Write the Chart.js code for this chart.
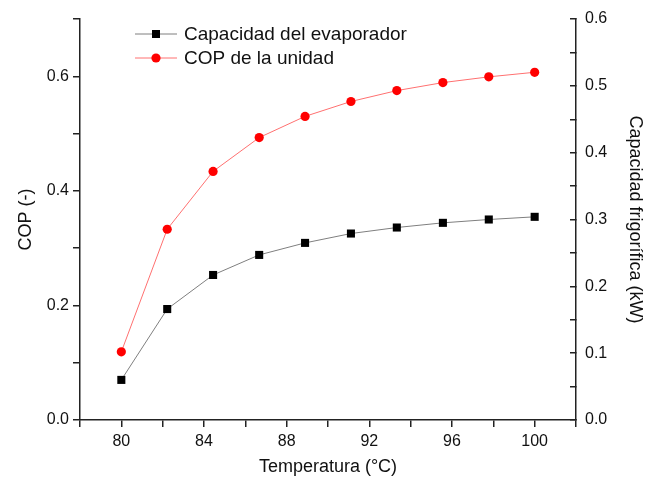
<!DOCTYPE html>
<html>
<head>
<meta charset="utf-8">
<script src="https://cdn.jsdelivr.net/npm/chart.js@4/dist/chart.umd.min.js"></script>
<style>
    html, body { margin: 0; padding: 0; background: #fff; }
    #wrap { width: 650px; height: 478px; }
</style>
</head>
<body>
<div id="wrap"><canvas id="chart" width="650" height="478"></canvas></div>
<script>
// Data
const temperatures = [80, 82.22, 84.44, 86.67, 88.89, 91.11, 93.33, 95.56, 97.78, 100];
const capacidadEvaporador = [0.060, 0.166, 0.217, 0.247, 0.265, 0.279, 0.288, 0.295, 0.300, 0.304];
const copUnidad = [0.119, 0.333, 0.434, 0.493, 0.530, 0.556, 0.575, 0.589, 0.599, 0.607];
const xTickLabels = [80, 84, 88, 92, 96, 100];
const copTickLabels = ['0.0', '0.2', '0.4', '0.6'];
const capTickLabels = ['0.0', '0.1', '0.2', '0.3', '0.4', '0.5', '0.6'];

const font = "Arial, 'Liberation Sans', sans-serif";
const axisColor = '#222';

// Legend drawn in the top left corner of the plot
const cornerLegend = {
    id: 'cornerLegend',
    afterDraw(chart) {
        const ctx = chart.ctx;
        ctx.save();
        chart.data.datasets.forEach((ds, i) => {
            const y = 34 + i * 24;
            ctx.strokeStyle = ds.borderColor;
            ctx.lineWidth = 1;
            ctx.beginPath();
            ctx.moveTo(135, y);
            ctx.lineTo(177, y);
            ctx.stroke();
            ctx.fillStyle = ds.pointBackgroundColor;
            if (ds.pointStyle === 'rect') {
                ctx.fillRect(152, y - 4, 8, 8);
            } else {
                ctx.beginPath();
                ctx.arc(156, y, ds.pointRadius, 0, Math.PI * 2);
                ctx.fill();
            }
            ctx.fillStyle = '#111';
            ctx.font = '19px ' + font;
            ctx.textBaseline = 'middle';
            ctx.fillText(ds.label, 184, y + 1);
        });
        ctx.restore();
    }
};

// fixed box sizes so the plot area lands where the original has it
const fitY = (w) => (s) => { s.width = w; s.paddingTop = 0; s.paddingBottom = 0; };

new Chart(document.getElementById('chart'), {
    type: 'line',
    data: {
        datasets: [{
            label: 'Capacidad del evaporador',
            data: temperatures.map((t, i) => ({ x: t, y: capacidadEvaporador[i] })),
            yAxisID: 'yCap',
            borderColor: '#7f7f7f',
            borderWidth: 1,
            pointStyle: 'rect',
            pointRadius: 5.7,
            pointBackgroundColor: '#000',
            pointBorderColor: '#000',
            pointBorderWidth: 0,
            tension: 0
        }, {
            label: 'COP de la unidad',
            data: temperatures.map((t, i) => ({ x: t, y: copUnidad[i] })),
            yAxisID: 'yCop',
            borderColor: '#ff7070',
            borderWidth: 1,
            pointStyle: 'circle',
            pointRadius: 4.6,
            pointBackgroundColor: '#ff0000',
            pointBorderColor: '#ff0000',
            pointBorderWidth: 0,
            tension: 0
        }]
    },
    options: {
        responsive: false,
        animation: false,
        devicePixelRatio: 1,
        layout: { padding: { top: 19, left: 0, right: 0, bottom: 0 } },
        plugins: {
            legend: { display: false },
            tooltip: { enabled: false }
        },
        scales: {
            x: {
                type: 'linear',
                min: 78,
                max: 102,
                afterFit: (s) => { s.height = 58; s.paddingLeft = 0; s.paddingRight = 0; },
                ticks: {
                    stepSize: 2,
                    autoSkip: false,
                    maxRotation: 0,
                    padding: 5,
                    color: '#111',
                    font: { family: font, size: 16 },
                    callback: (v) => xTickLabels.includes(v) ? String(v) : ''
                },
                grid: { drawOnChartArea: false, tickLength: 7, color: axisColor, lineWidth: 1.5 },
                border: { display: true, color: axisColor, width: 1.5 },
                title: {
                    display: true,
                    text: 'Temperatura (°C)',
                    color: '#111',
                    font: { family: font, size: 18 },
                    padding: { top: 4, bottom: 0 }
                }
            },
            yCop: {
                type: 'linear',
                position: 'left',
                min: 0,
                max: 0.7,
                afterFit: fitY(80),
                ticks: {
                    stepSize: 0.1,
                    autoSkip: false,
                    padding: 4,
                    color: '#111',
                    font: { family: font, size: 16 },
                    callback: (v, i) => i % 2 === 0 ? copTickLabels[i / 2] : ''
                },
                grid: { drawOnChartArea: false, tickLength: 7, color: axisColor, lineWidth: 1.5 },
                border: { display: true, color: axisColor, width: 1.5 },
                title: {
                    display: true,
                    text: 'COP (-)',
                    color: '#111',
                    font: { family: font, size: 18 },
                    padding: { top: 15, bottom: 0 }
                }
            },
            yCap: {
                type: 'linear',
                position: 'right',
                min: 0,
                max: 0.6,
                afterFit: fitY(74),
                ticks: {
                    stepSize: 0.05,
                    autoSkip: false,
                    padding: 15,
                    color: '#111',
                    font: { family: font, size: 16 },
                    callback: (v, i) => i % 2 === 0 ? capTickLabels[i / 2] : ''
                },
                grid: { drawOnChartArea: false, tickLength: -6, color: axisColor, lineWidth: 1.5 },
                border: { display: true, color: axisColor, width: 1.5 },
                title: {
                    display: true,
                    text: 'Capacidad frigorífica (kW)',
                    color: '#111',
                    font: { family: font, size: 18 },
                    padding: { top: 4, bottom: 0 }
                }
            }
        }
    },
    plugins: [cornerLegend]
});
</script>
</body>
</html>
